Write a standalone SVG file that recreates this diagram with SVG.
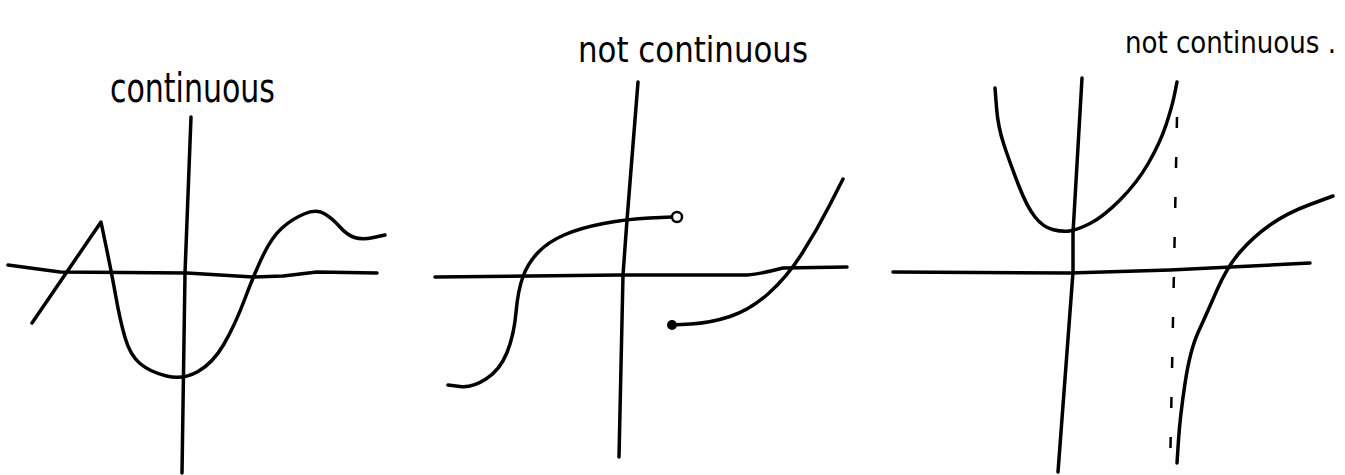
<svg xmlns="http://www.w3.org/2000/svg" width="1345" height="475" viewBox="0 0 1345 475">
<style>
.ln{fill:none;stroke:#000;stroke-width:3.5;stroke-linecap:round;stroke-linejoin:round}
.ax{fill:none;stroke:#000;stroke-width:3.5;stroke-linecap:round;stroke-linejoin:round}
.dash{fill:none;stroke:#000;stroke-width:2.5;stroke-dasharray:11 29}
.lbl{font-family:"DejaVu Sans Condensed","DejaVu Sans",sans-serif;fill:#000}
</style>
<rect width="1345" height="475" fill="#fff"/>
<g id="graph-continuous">
  <text class="lbl" x="110" y="102" font-size="40" textLength="165" lengthAdjust="spacingAndGlyphs">continuous</text>
  <path class="ax" d="M 8,265 L 60,272 L 187,273 L 253,277 L 283,276 L 317,272 L 377,273"/>
  <path class="ax" d="M 191,117 L 185,273 L 182,473"/>
  <path class="ln" d="M 32,323 L 101,222 L 106.5,248.5 Q 112,275 116,297.5 Q 120,320 125,337.5 Q 130,355 140,363.5 Q 150,372 166.5,376 Q 183,380 198,371.5 Q 213,363 224,344 Q 235,325 245,298.5 Q 255,272 263.5,254.5 Q 272,237 282,228 Q 292,219 304,214 Q 316,209 324,213.5 Q 332,218 339.5,226.5 Q 347,235 354.5,237.5 Q 362,240 373.5,237.5 L 385,235"/>
</g>
<g id="graph-jump">
  <text class="lbl" x="578" y="62" font-size="36" textLength="230" lengthAdjust="spacingAndGlyphs">not continuous</text>
  <path class="ax" d="M 435,277 L 620,275 L 747,275 Q 760,274 783,268 L 847,267"/>
  <path class="ax" d="M 638,82 L 627,220 L 623,275 L 619,457"/>
  <path class="ln" d="M 448,385 L 460,386.5 Q 472,388 486,379 Q 500,370 507,352.5 Q 514,335 516,312.5 Q 518,290 523,276.5 Q 528,263 538,252.5 Q 548,242 564,235 Q 580,228 603.5,223.5 Q 627,219 649.5,218 L 672,217"/>
  <circle cx="677" cy="217" r="5" fill="#fff" stroke="#000" stroke-width="2.5"/>
  <circle cx="672" cy="325" r="5" fill="#000"/>
  <path class="ln" d="M 672,325 L 691,324 Q 710,323 730,316.5 Q 750,310 768.5,293.5 Q 787,277 802,253.5 Q 817,230 830,204.5 L 843,179"/>
</g>
<g id="graph-asymptote">
  <text class="lbl" x="1125" y="53" font-size="30" textLength="211" lengthAdjust="spacingAndGlyphs">not continuous .</text>
  <path class="ax" d="M 893,272 L 1070,273 L 1170,270 L 1310,263"/>
  <path class="ax" d="M 1082,78 L 1073,233 L 1073,272 L 1058,472"/>
  <path class="dash" d="M 1177,117 L 1170,472"/>
  <path class="ln" d="M 995,88 L 996.5,107.5 Q 998,127 1004,145 Q 1010,163 1018.5,185 Q 1027,207 1035,217 Q 1043,227 1052.5,229.5 Q 1062,232 1069.5,231 Q 1077,230 1090,223.5 Q 1103,217 1120,200 Q 1137,183 1148.5,163 Q 1160,143 1166,125 Q 1172,107 1174.5,94.5 L 1177,82"/>
  <path class="ln" d="M 1177,463 L 1178.5,440 Q 1180,417 1185,383.5 Q 1190,350 1198.5,331.5 Q 1207,313 1217,290 Q 1227,267 1240,252 Q 1253,237 1270,225 Q 1287,213 1310,204.5 L 1333,196"/>
</g>
</svg>
